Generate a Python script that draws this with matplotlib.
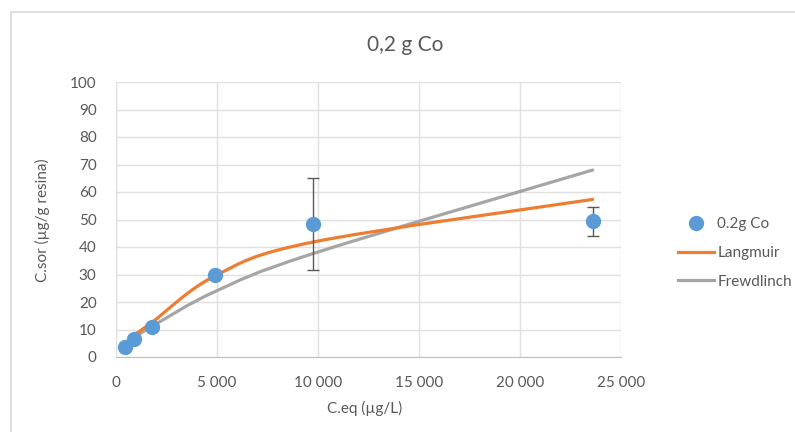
import numpy as np
import matplotlib
matplotlib.use('Agg')
import matplotlib.pyplot as plt
from matplotlib.path import Path
from matplotlib.patches import PathPatch, Rectangle
from matplotlib.lines import Line2D
from matplotlib.ticker import FuncFormatter

plt.rcParams['font.family'] = ['Lato', 'DejaVu Sans']

# measured points
c_eq = [450, 890, 1800, 4900, 9750, 23600]
c_sor = [3.8, 6.5, 11.0, 30.0, 48.5, 49.3]
c_err = [0, 0, 0, 0, 16.7, 5.3]

# model curves (values read at the fit points)
fit_x = [890, 1800, 4900, 9750, 23600]
langmuir = [8.0, 12.7, 29.5, 41.8, 57.3]
freundlich = [7.0, 11.2, 23.8, 37.6, 68.0]

text_col = '#595959'
grid_col = '#e0e0e0'


def smooth_path(xs, ys):
    # Excel style smoothed line: Catmull-Rom segments as cubic Bezier
    pts = np.column_stack([xs, ys]).astype(float)
    n = len(pts)
    verts = [pts[0]]
    codes = [Path.MOVETO]
    for i in range(n - 1):
        p0 = pts[max(i - 1, 0)]
        p1 = pts[i]
        p2 = pts[i + 1]
        p3 = pts[min(i + 2, n - 1)]
        verts += [p1 + (p2 - p0) / 6, p2 - (p3 - p1) / 6, p2]
        codes += [Path.CURVE4] * 3
    return Path(verts, codes)


fig = plt.figure(figsize=(7.95, 4.32), dpi=100)
fig.patches.append(Rectangle((11 / 795, -0.1), 1.2, (432 - 12) / 432 + 0.1,
                             transform=fig.transFigure, fill=False,
                             edgecolor='#d9d9d9', lw=1.2))

ax = fig.add_axes([116 / 795, 1 - 357 / 432, (621 - 116) / 795, (357 - 82) / 432])
ax.set_xlim(0, 25000)
ax.set_ylim(0, 100)
ax.set_xticks(range(0, 25001, 5000))
ax.set_yticks(range(0, 101, 10))
ax.xaxis.set_major_formatter(FuncFormatter(lambda v, p: f'{int(v):,}'.replace(',', ' ')))
ax.grid(True, color=grid_col, lw=1)
ax.set_axisbelow(True)
for s in ['top', 'right']:
    ax.spines[s].set_visible(False)
ax.spines['left'].set_color(grid_col)
ax.spines['bottom'].set_color('#bfbfbf')
ax.tick_params(axis='y', length=0, colors=text_col, labelsize=11, pad=14)
ax.tick_params(axis='x', length=0, colors=text_col, labelsize=11, pad=14)

ax.add_patch(PathPatch(smooth_path(fit_x, freundlich), fill=False,
                       edgecolor='#a5a5a5', lw=2.3, capstyle='round', zorder=3))
ax.add_patch(PathPatch(smooth_path(fit_x, langmuir), fill=False,
                       edgecolor='#ed7d31', lw=2.3, capstyle='round', zorder=3))

err = [e if e > 0 else np.nan for e in c_err]
ax.errorbar(c_eq, c_sor, yerr=err, fmt='none', ecolor=text_col, elinewidth=1,
            capsize=4, capthick=1, zorder=4)
ax.plot(c_eq, c_sor, 'o', color='#5b9bd5', ms=10, zorder=5)

fig.text(405 / 795, 1 - 45 / 432, '0,2 g Co', color=text_col, fontsize=15,
         ha='center', va='center')
fig.text(365 / 795, 1 - 408 / 432, 'C.eq (µg/L)', color=text_col, fontsize=11,
         ha='center', va='center')
fig.text(42 / 795, 1 - 220 / 432, 'C.sor (µg/g resina)', color=text_col,
         fontsize=11, ha='center', va='center', rotation=90)

handles = [
    Line2D([], [], marker='o', ls='none', color='#5b9bd5', ms=10),
    Line2D([], [], color='#ed7d31', lw=2.3),
    Line2D([], [], color='#a5a5a5', lw=2.3),
]
fig.legend(handles, ['0.2g Co', 'Langmuir', 'Frewdlinch'],
           loc='center left', bbox_to_anchor=(664 / 795, 1 - 253 / 432),
           frameon=False, fontsize=11, labelcolor=text_col,
           handlelength=2.4, handletextpad=0.2, labelspacing=0.95)

fig.savefig('out.png', dpi=100)
